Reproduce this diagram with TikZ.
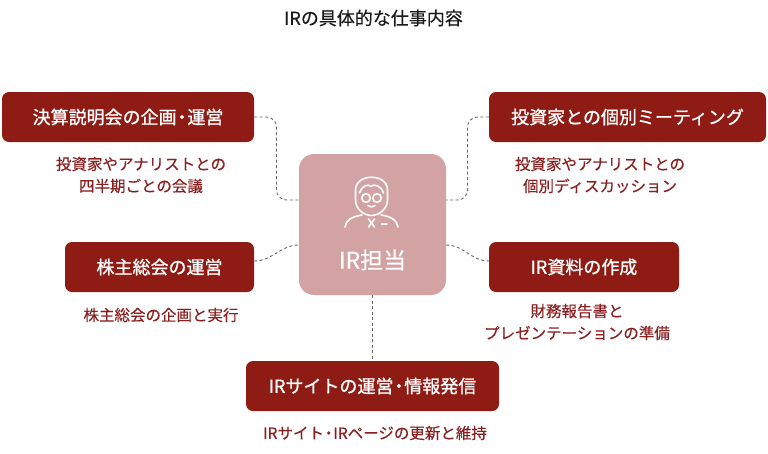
\documentclass[tikz,border=0pt]{standalone}
\usepackage{fontspec}
\setmainfont{Noto Sans CJK JP}
\newfontfamily\boxfont{Noto Sans CJK JP}[FakeBold=1.0]
\newfontfamily\subfont{Noto Sans CJK JP}[FakeBold=0.3]
\usetikzlibrary{calc}
\definecolor{boxred}{HTML}{8E1B14}
\definecolor{subred}{HTML}{8A1F1F}
\definecolor{centerpink}{HTML}{D3A3A3}
\definecolor{linegray}{HTML}{666666}
\definecolor{titlegray}{HTML}{1A1A1A}
\newcommand{\mdot}{\kern-0.2em・\kern-0.2em}
\begin{document}
\begin{tikzpicture}[x=1pt,y=-1pt,
  topic/.style={draw=none, fill=boxred, rounded corners=7pt, text=white,
    font=\boxfont\fontsize{18}{20}\selectfont, minimum height=50pt, inner sep=0pt},
  sub/.style={text=subred, align=center, font=\subfont\fontsize{15.5}{22}\selectfont, inner sep=0pt},
  conn/.style={draw=linegray, line width=0.9pt, dash pattern=on 3pt off 2.5pt},
  icon/.style={draw=white, line width=1.6pt, line cap=round, line join=round}]
\useasboundingbox (0,0) rectangle (768,453);

\node[font=\subfont\fontsize{18}{20}\selectfont, text=titlegray] (title) at (373.5,18) {IRの具体的な仕事内容};

% center box
\node[fill=centerpink, rounded corners=15pt, minimum width=147pt, minimum height=141pt, inner sep=0pt] (c) at (372.5,224.5) {};
\node[text=white, font=\subfont\fontsize{23}{26}\selectfont, inner sep=0pt] (clabel) at (372.5,260) {IR担当};

% icon
\draw[icon] (355.5,200) -- (355.5,190) .. controls (355.5,173) and (387.5,173) .. (387.5,190) -- (387.5,200)
  .. controls (387.5,209) and (379,215.5) .. (371.5,215.5) .. controls (364,215.5) and (355.5,209) .. (355.5,200);
\draw[icon] (359.5,193) .. controls (362,185.5) and (368,183.5) .. (371,186.5) .. controls (374,183.5) and (381,185.5) .. (383.5,193);
\draw[icon] (366,198) circle (4.3);
\draw[icon] (377,198) circle (4.3);
\draw[icon] (368,205.5) .. controls (370,207.5) and (373,207.5) .. (375,205.5);
\draw[icon] (345,227) .. controls (346,220) and (352,216.5) .. (362,215);
\draw[icon] (398,227) .. controls (397,220) and (391,216.5) .. (381,215);
\draw[icon] (368.5,219) -- (374.5,227);
\draw[icon] (374.5,219) -- (368.5,227);
\draw[icon] (381.5,224) -- (387,224);

% topic boxes
\node[topic, minimum width=252pt] (b1) at (128,117) {決算説明会の企画\mdot 運営};
\node[topic, minimum width=277pt] (b2) at (627.5,117) {投資家との個別ミーティング};
\node[topic, minimum width=189pt] (b3) at (159.5,267) {株主総会の運営};
\node[topic, minimum width=190pt] (b4) at (584,267) {IR資料の作成};
\node[topic, minimum width=253pt] (b5) at (372.5,386) {IRサイトの運営\mdot 情報発信};

% sub texts
\node[sub] (s1) at (141,175) {投資家やアナリストとの\\四半期ごとの会議};
\node[sub] (s2) at (600,175) {投資家やアナリストとの\\個別ディスカッション};
\node[sub] (s3) at (161,315) {株主総会の企画と実行};
\node[sub] (s4) at (577,322) {財務報告書と\\プレゼンテーションの準備};
\node[sub] (s5) at (375,433) {IRサイト\mdot IRページの更新と維持};

% connectors
\draw[conn, rounded corners=10pt] (b1.east) -| ($(b1.east)!0.5!([yshift=24.5pt]c.west)$) |- ([yshift=24.5pt]c.west);
\draw[conn, rounded corners=10pt] (b2.west) -| ($(b2.west)!0.5!([yshift=24.5pt]c.east)$) |- ([yshift=24.5pt]c.east);
\draw[conn] ([yshift=6pt]b3.east) to[out=0,in=180] ([yshift=-20.5pt]c.west);
\draw[conn] ([yshift=-20.5pt]c.east) to[out=0,in=180] ([yshift=6pt]b4.west);
\draw[conn] (c.south) -- (b5.north);
\end{tikzpicture}
\end{document}
